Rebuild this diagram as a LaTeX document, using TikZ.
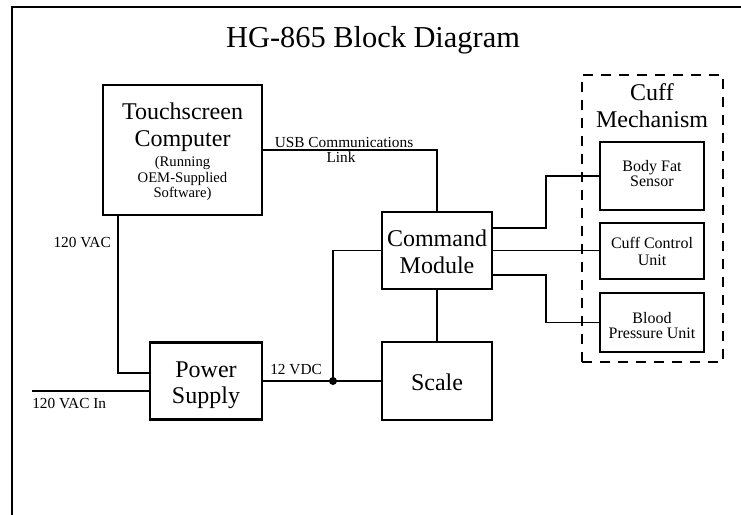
\documentclass[tikz,border=0pt]{standalone}
\usepackage{fontspec}
\setmainfont{Liberation Serif}
\usetikzlibrary{calc}
\begin{document}
\begin{tikzpicture}[x=0.75pt,y=-0.75pt,
  box/.style={draw,line width=1.6pt,inner sep=0pt},
  wire/.style={line width=1.35pt},
  big/.style={font=\fontsize{18}{20}\selectfont,anchor=base,inner sep=0pt},
  small/.style={font=\fontsize{12}{13}\selectfont,anchor=base,inner sep=0pt},
  sub/.style={font=\fontsize{11}{12}\selectfont,anchor=base,inner sep=0pt},
  lab/.style={font=\fontsize{11.5}{13}\selectfont,inner sep=0pt}]
\useasboundingbox (0,0) rectangle (741,514);
\draw[line width=1.7pt] (12,530) -- (12,7) -- (760,7);
\node[font=\fontsize{22.8}{24}\selectfont,anchor=base,inner sep=0pt] (title) at (373,47) {HG-865 Block Diagram};

% boxes
\node[box,minimum width=119.25pt,minimum height=97.5pt] (comp) at (182.5,150) {};
\node[box,minimum width=82.5pt,minimum height=57.75pt] (cmd) at (437,250.5) {};
\node[box,minimum width=82.5pt,minimum height=58.5pt] (scale) at (437,381) {};
\node[box,minimum width=84pt,minimum height=57.75pt] (pwr) at (206,381) {};
\node[box,minimum width=78pt,minimum height=51pt] (bf) at (652,176) {};
\node[box,minimum width=78pt,minimum height=42pt] (cc) at (652,251) {};
\node[box,minimum width=78pt,minimum height=44.25pt] (bp) at (652,322.5) {};
\node[draw,line width=1.2pt,dash pattern=on 7.5pt off 6pt,minimum width=105.75pt,minimum height=215.25pt,inner sep=0pt] (cuff) at (652.5,218.5) {};

% box texts
\node[big] (t1) at (182.5,119) {Touchscreen};
\node[big] (t2) at (182.5,146) {Computer};
\node[sub] (t3) at (182.5,166) {(Running};
\node[sub] (t4) at (182.5,182) {OEM-Supplied};
\node[sub] (t5) at (182.5,197) {Software)};
\node[big] (c1) at (437,246) {Command};
\node[big] (c2) at (437,273) {Module};
\node[big] (s1) at (437,390) {Scale};
\node[big] (p1) at (206,377) {Power};
\node[big] (p2) at (206,403) {Supply};
\node[big] (m1) at (652,100) {Cuff};
\node[big] (m2) at (652,127) {Mechanism};
\node[small] (b1) at (652,171) {Body Fat};
\node[small] (b2) at (652,186) {Sensor};
\node[small] (u1) at (652,248) {Cuff Control};
\node[small] (u2) at (652,265) {Unit};
\node[small] (r1) at (652,323) {Blood};
\node[small] (r2) at (652,338) {Pressure Unit};

% labels
\node[lab,anchor=base] (usb1) at (344,147) {USB Communications};
\node[lab,anchor=base] (usb2) at (341,162) {Link};
\node[lab,anchor=base east] (vac) at (111,247) {120 VAC};
\node[lab,anchor=base west] (vdc) at (270,374) {12 VDC};
\node[lab,anchor=base west] (vin) at (32,408) {120 VAC In};

% connectors
\coordinate (inL) at (32,391);
\coordinate (j) at (333,381);
\draw[wire] (comp.east) -| (cmd.north);
\draw[wire] ([xshift=12pt]comp.south west) |- ([yshift=6pt]pwr.west);
\draw[wire] (inL) -- (inL -| pwr.west);
\draw[wire] (pwr.east) -- (scale.west);
\fill (j) circle (3pt);
\draw[wire] (j) |- (cmd.west);
\draw[wire] (cmd.south) -- (scale.north);
\draw[wire] ([yshift=16.9pt]cmd.east) -| ($(bf.west)+(-53,0)$) -- (bf.west);
\draw[wire] (cmd.east) -- (cmd.east -| cc.west);
\draw[wire] ([yshift=-18.4pt]cmd.east) -| ($(bp.west)+(-53,0)$) -- (bp.west);
\end{tikzpicture}
\end{document}
